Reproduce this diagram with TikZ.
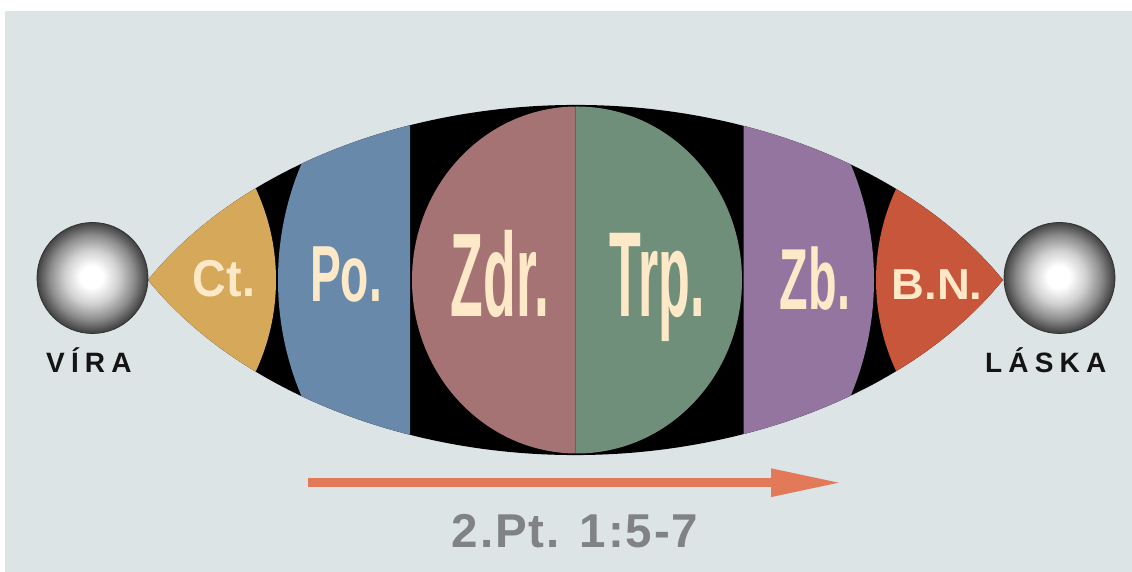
\documentclass[tikz,border=0pt]{standalone}
\usepackage{fontspec}
\setmainfont{Liberation Sans}
\usetikzlibrary{arrows.meta}
\definecolor{bgc}{RGB}{221,228,230}
\definecolor{ctc}{RGB}{213,168,90}
\definecolor{poc}{RGB}{104,137,170}
\definecolor{zdc}{RGB}{165,115,115}
\definecolor{trc}{RGB}{112,143,122}
\definecolor{zbc}{RGB}{147,117,160}
\definecolor{bnc}{RGB}{200,86,58}
\definecolor{cream}{RGB}{253,233,200}
\definecolor{arrc}{RGB}{226,122,90}
\definecolor{reftc}{RGB}{128,130,132}
\pgfdeclareradialshading{spheresh}{\pgfpoint{-0.5bp}{0.5bp}}{color(0bp)=(white); color(5bp)=(white); color(12bp)=(black!18); color(19bp)=(black!45); color(25bp)=(black!75); color(50bp)=(black!75)}
\newcommand\mylab[3]{\scalebox{#1}[1]{\fontsize{#2pt}{#2pt}\selectfont\bfseries #3}}
\tikzset{
  lab/.style={text=cream, inner sep=0pt, anchor=base},
  sphere/.style={circle, inner sep=0pt, minimum size=111pt, shading=spheresh, draw=black!80, line width=0.8pt},
  endlab/.style={inner sep=0pt, anchor=base west, text=black!92}
}
\begin{document}
\begin{tikzpicture}[x=1pt,y=1pt]
\useasboundingbox (0,0) rectangle (1132,572);
\fill[white] (0,0) rectangle (1132,572);
\fill[bgc] (5,0) rectangle (1132,561);
\def\lenspath{(148,292) arc[start angle=150,end angle=30,x radius=493.6pt,y radius=350pt] arc[start angle=-30,end angle=-150,x radius=493.6pt,y radius=350pt] -- cycle}
\fill[black] \lenspath;
\begin{scope}
  \clip \lenspath;
  \fill[ctc] (60,292) circle[radius=216pt];
  \fill[bnc] (1092,292) circle[radius=216pt];
  \begin{scope}
    \clip (0,0) rectangle (410,572);
    \fill[poc] (576,292) circle[radius=298pt];
  \end{scope}
  \begin{scope}
    \clip (743.5,0) rectangle (1132,572);
    \fill[zbc] (576,292) circle[radius=298pt];
  \end{scope}
  \begin{scope}
    \clip (0,0) rectangle (575.5,572);
    \fill[zdc] (577,292) ellipse[x radius=165pt,y radius=173.5pt];
  \end{scope}
  \begin{scope}
    \clip (575.5,0) rectangle (1132,572);
    \fill[trc] (577,292) ellipse[x radius=165pt,y radius=173.5pt];
  \end{scope}
\end{scope}
\node[lab] (ct) at (224,275.3) {\mylab{0.9}{51.7}{Ct.}};
\node[lab] (po) at (346,270.3) {\mylab{0.58}{79.6}{Po.}};
\node[lab] (zdr) at (500,255.3) {\mylab{0.45}{119}{Zdr.}};
\node[lab] (trp) at (657,255.3) {\mylab{0.43}{121}{Trp.}};
\node[lab] (zb) at (815,262) {\mylab{0.54}{86.6}{Zb.}};
\node[lab] (bn) at (937,272.7) {\mylab{1.05}{43.3}{B.N.}};
\node[sphere] (s1) at (92.5,294) {};
\node[sphere] (s2) at (1059.5,294) {};
\node[endlab] (vira) at (46,199) {\fontsize{28pt}{28pt}\selectfont\bfseries\addfontfeatures{LetterSpace=22}VÍRA};
\node[endlab] (laska) at (985,199) {\fontsize{28pt}{28pt}\selectfont\bfseries\addfontfeatures{LetterSpace=22}LÁSKA};
\coordinate (aS) at (308,89.3);
\coordinate (aE) at (842,89.3);
\draw[arrc, line width=9pt, -{Triangle[length=71pt,width=26pt]}] (aS) -- (aE);
\node[anchor=base, text=reftc, inner sep=0pt] (ref) at (575,24.7) {\fontsize{47.5pt}{47.5pt}\selectfont\bfseries\addfontfeatures{LetterSpace=4}2.Pt. 1:5-7};
\end{tikzpicture}
\end{document}
